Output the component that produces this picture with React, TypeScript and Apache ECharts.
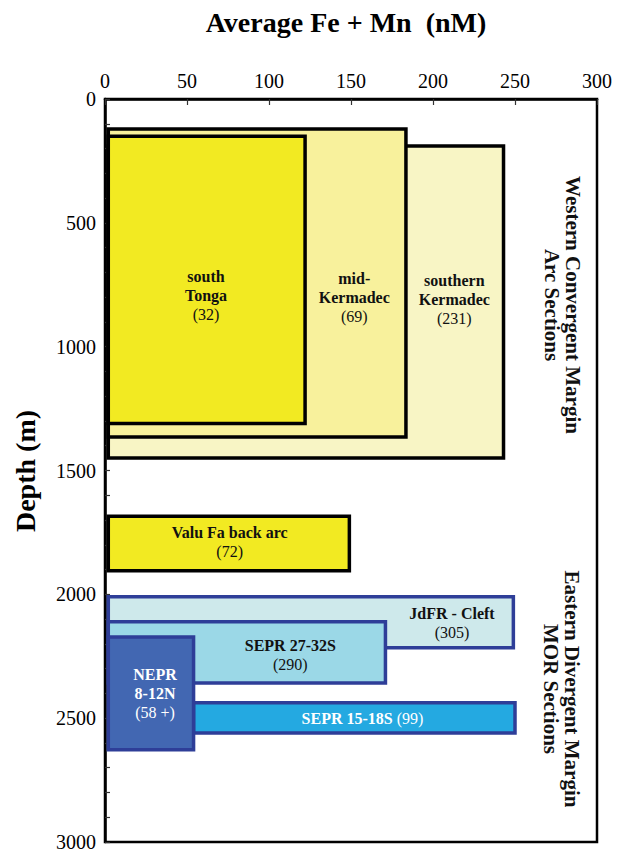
import React, { useEffect, useRef } from "react";
import * as echarts from "echarts";

// Sections (each box: Fe+Mn range along x in nM, depth range along y in m)
const sectionNames = [
  "southern Kermadec",
  "mid-Kermadec",
  "south Tonga",
  "Valu Fa back arc",
  "JdFR - Cleft",
  "SEPR 27-32S",
  "SEPR 15-18S",
  "NEPR 8-12N",
];
const sampleCounts = ["(231)", "(69)", "(32)", "(72)", "(305)", "(290)", "(99)", "(58 +)"];
const feMnStart = [2, 2, 2, 2, 2, 2, 54, 2];
const feMnEnd = [243, 183.5, 122, 149, 249, 171, 250, 54];
const depthTop = [190, 121, 150, 1685, 2010, 2111, 2438, 2172];
const depthBottom = [1450, 1365, 1310, 1905, 2216, 2358, 2560, 2628];
// label anchor points in data units
const labelAnchorX = [213, 152, 61.6, 76, 211.6, 113, 157, 30.5];
const labelAnchorY = [811, 800, 795, 1790, 2115, 2243, 2503, 2400];

const xTicks = [0, 50, 100, 150, 200, 250, 300];
const yTicks = [0, 500, 1000, 1500, 2000, 2500, 3000];

const FAMILY = '"Liberation Serif", "Times New Roman", Times, serif';
const fills = ["#F8F5C5", "#F8F19C", "#F2EA22", "#F2EA22", "#CEE9EB", "#9BD8E7", "#24A9E1", "#4267B2"];
const strokes = ["#000", "#000", "#000", "#000", "#2E3E98", "#2E3E98", "#2E3E98", "#2E3E98"];
const textColors = ["#111", "#111", "#111", "#111", "#111", "#111", "#fff", "#fff"];
const labelLayouts = [
  ["southern", "Kermadec"],
  ["mid-", "Kermadec"],
  ["south", "Tonga"],
  ["Valu Fa back arc"],
  ["JdFR - Cleft"],
  ["SEPR 27-32S"],
  null,
  ["NEPR", "8-12N"],
];

export default function App() {
  const ref = useRef<HTMLDivElement>(null);
  useEffect(() => {
    if (!ref.current) return;
    const chart = echarts.init(ref.current, null, { renderer: "svg" });
    const data = sectionNames.map((n, i) => [
      feMnStart[i],
      feMnEnd[i],
      depthTop[i],
      depthBottom[i],
      labelAnchorX[i],
      labelAnchorY[i],
      i,
    ]);
    const option: any = {
      animation: false,
      backgroundColor: "#fff",
      textStyle: { fontFamily: FAMILY },
      grid: {
        left: 105,
        top: 99,
        width: 492,
        height: 743,
        show: true,
        borderColor: "#000",
        borderWidth: 2.5,
        backgroundColor: "transparent",
      },
      xAxis: {
        type: "value",
        position: "top",
        min: xTicks[0],
        max: xTicks[xTicks.length - 1],
        interval: 50,
        axisLine: { show: true, lineStyle: { color: "#000", width: 2.5 } },
        axisTick: { show: true, inside: true, length: 6, lineStyle: { color: "#333", width: 1.2 } },
        axisLabel: { fontFamily: FAMILY, fontSize: 20, color: "#000", margin: 8, formatter: (v: number) => String(v) },
        splitLine: { show: false },
      },
      yAxis: {
        type: "value",
        inverse: true,
        min: yTicks[0],
        max: yTicks[yTicks.length - 1],
        interval: 500,
        axisLine: { show: true, lineStyle: { color: "#000", width: 2.5 } },
        axisTick: { show: true, inside: true, length: 5, lineStyle: { color: "#333", width: 1.2 } },
        minorTick: { show: true, splitNumber: 5, length: 5, lineStyle: { color: "#333", width: 1.2 } },
        axisLabel: { fontFamily: FAMILY, fontSize: 20, color: "#000", margin: 9, formatter: (v: number) => String(v) },
        splitLine: { show: false },
      },
      graphic: [
        {
          type: "text",
          x: 346,
          y: 22,
          style: {
            text: "Average Fe + Mn  (nM)",
            font: `bold 28px ${FAMILY}`,
            fill: "#000",
            align: "center",
            verticalAlign: "middle",
          },
        },
        {
          type: "text",
          x: 25,
          y: 471,
          rotation: Math.PI / 2,
          style: {
            text: "Depth (m)",
            font: `bold 28px ${FAMILY}`,
            fill: "#000",
            align: "center",
            verticalAlign: "middle",
          },
        },
        {
          type: "text",
          x: 562,
          y: 305,
          rotation: -Math.PI / 2,
          style: {
            text: "Western Convergent Margin\nArc Sections",
            font: `bold 21px ${FAMILY}`,
            lineHeight: 21,
            fill: "#111",
            align: "center",
            verticalAlign: "middle",
          },
        },
        {
          type: "text",
          x: 561,
          y: 689,
          rotation: -Math.PI / 2,
          style: {
            text: "Eastern Divergent Margin\nMOR Sections",
            font: `bold 21px ${FAMILY}`,
            lineHeight: 21,
            fill: "#111",
            align: "center",
            verticalAlign: "middle",
          },
        },
      ],
      series: [
        {
          type: "custom",
          coordinateSystem: "cartesian2d",
          encode: { x: [0, 1, 4], y: [2, 3, 5] },
          data,
          renderItem: (params: any, api: any) => {
            const i = api.value(6);
            const p0 = api.coord([api.value(0), api.value(2)]);
            const p1 = api.coord([api.value(1), api.value(3)]);
            const lp = api.coord([api.value(4), api.value(5)]);
            const layout = labelLayouts[i];
            const color = textColors[i];
            let text: string;
            if (layout) {
              text = layout.map((l) => `{b|${l}}`).join("\n") + `\n{r|${sampleCounts[i]}}`;
            } else {
              text = `{b|${sectionNames[i]}}{r| ${sampleCounts[i]}}`;
            }
            return {
              type: "group",
              children: [
                {
                  type: "rect",
                  shape: { x: p0[0], y: p0[1], width: p1[0] - p0[0], height: p1[1] - p0[1] },
                  style: { fill: fills[i], stroke: strokes[i], lineWidth: 3.5 },
                },
                {
                  type: "text",
                  x: lp[0],
                  y: lp[1],
                  style: {
                    text,
                    align: "center",
                    verticalAlign: "middle",
                    rich: {
                      b: { font: `bold 16px ${FAMILY}`, fill: color, lineHeight: 19 },
                      r: { font: `16px ${FAMILY}`, fill: color, lineHeight: 19 },
                    },
                  },
                },
              ],
            };
          },
        },
      ],
    };
    chart.setOption(option);
    return () => chart.dispose();
  }, []);
  return (
    <div
      ref={ref}
      style={{ position: "fixed", left: 0, top: 0, width: 618, height: 856, background: "#fff" }}
    />
  );
}
